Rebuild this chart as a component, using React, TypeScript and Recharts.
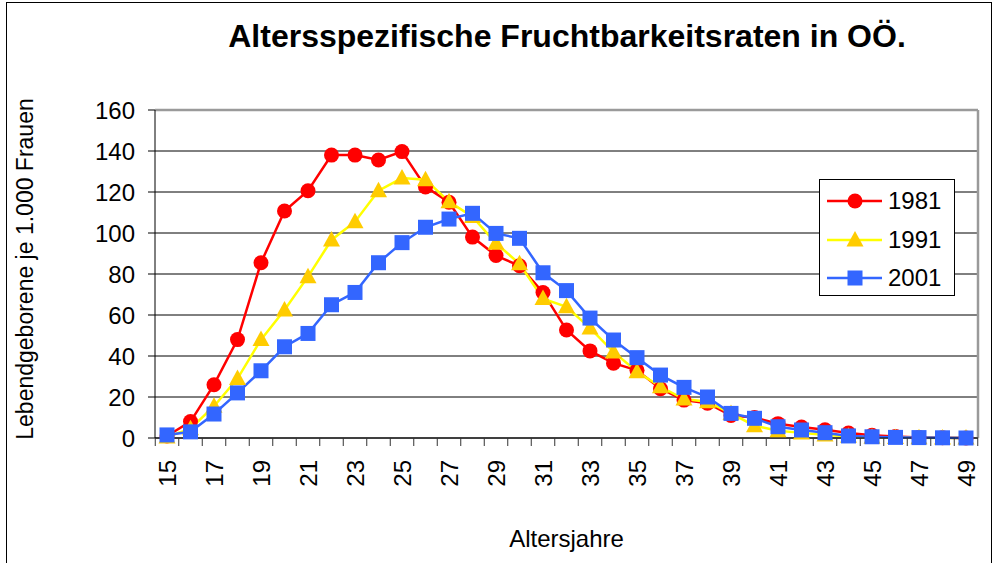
import { CartesianGrid, Legend, Line, LineChart, XAxis, YAxis } from 'recharts'

const ages = ['15', '16', '17', '18', '19', '20', '21', '22', '23', '24', '25', '26', '27', '28', '29', '30', '31', '32', '33', '34', '35', '36', '37', '38', '39', '40', '41', '42', '43', '44', '45', '46', '47', '48', '49']

const rates1981 = [1, 8, 26, 48, 85.5, 110.7, 120.6, 138, 138, 135.6, 139.7, 122.5, 115, 98, 89, 84, 71, 52.7, 42.5, 36.5, 33, 24, 18.5, 17, 11, 10, 7, 5.4, 4, 2.4, 1.3, 0.7, 0.3, 0.1, 0]
const rates1991 = [0.5, 4.5, 15.5, 29, 48, 62.4, 78.7, 96.6, 105.5, 120.6, 126.8, 126, 115.3, 108, 95, 85, 68, 64, 53.6, 42, 32.3, 25, 19, 17.7, 12, 6, 3.5, 2.5, 1.5, 0.8, 0.4, 0.2, 0.1, 0, 0]
const rates2001 = [1.5, 3, 11.7, 22, 32.8, 44.5, 51, 65, 71, 85.5, 95.3, 102.8, 106.8, 109.6, 99.8, 97.4, 80.6, 71.9, 58.5, 47.8, 39.2, 30.7, 24.7, 20, 12, 9.6, 5.5, 3.9, 2.6, 1, 0.6, 0.3, 0.2, 0.1, 0]

const yTicks = [0, 20, 40, 60, 80, 100, 120, 140, 160]

const chartData = ages.map((age, i) => ({
  age,
  y1981: rates1981[i],
  y1991: rates1991[i],
  y2001: rates2001[i],
}))

const FONT = '"Liberation Sans", Arial, sans-serif'
const HALF_STEP = 11.75

type Marker = 'circle' | 'triangle' | 'square'

const series: { key: string; name: string; line: string; fill: string; marker: Marker }[] = [
  { key: 'y1981', name: '1981', line: '#ff0000', fill: '#ff0000', marker: 'circle' },
  { key: 'y1991', name: '1991', line: '#ffff00', fill: '#ffcc00', marker: 'triangle' },
  { key: 'y2001', name: '2001', line: '#3366ff', fill: '#3366ff', marker: 'square' },
]

const markerShape = (marker: Marker, cx: number, cy: number, fill: string, key?: string) => {
  if (marker === 'circle') return <circle key={key} cx={cx} cy={cy} r={7.5} fill={fill} />
  if (marker === 'square') return <rect key={key} x={cx - 7.5} y={cy - 7.5} width={15} height={15} fill={fill} />
  return <polygon key={key} points={`${cx},${cy - 9} ${cx + 8.5},${cy + 6.5} ${cx - 8.5},${cy + 6.5}`} fill={fill} />
}

const makeDot = (marker: Marker, fill: string) => (props: any) => {
  const { cx, cy, index } = props
  if (cx == null || cy == null) return <g key={`e-${index}`} />
  return markerShape(marker, cx, cy, fill, `d-${index}`)
}

// every other label is shown, so each tick draws the two category borders around it
const AgeTick = (props: any) => {
  const { x, y, payload } = props
  const axisY = y - 8
  const ty = y + 14
  return (
    <g>
      <line x1={x - HALF_STEP} x2={x - HALF_STEP} y1={axisY} y2={axisY + 8} stroke="#333" />
      <line x1={x + HALF_STEP} x2={x + HALF_STEP} y1={axisY} y2={axisY + 8} stroke="#333" />
      <text
        x={x}
        y={ty}
        dy="0.36em"
        textAnchor="end"
        transform={`rotate(-90 ${x} ${ty})`}
        fontSize={24}
        fontFamily={FONT}
        fill="#000"
      >
        {payload.value}
      </text>
    </g>
  )
}

const YTitle = (props: any) => {
  const { viewBox } = props
  const cy = viewBox.y + viewBox.height / 2 - 5
  return (
    <text x={33} y={cy} textAnchor="middle" transform={`rotate(-90 33 ${cy})`} fontSize={23} fontFamily={FONT} fill="#000">
      Lebendgeborene je 1.000 Frauen
    </text>
  )
}

const LegendBox = () => (
  <div
    style={{
      width: 136,
      height: 117,
      boxSizing: 'border-box',
      border: '1px solid #000',
      background: '#fff',
      position: 'relative',
      fontFamily: FONT,
    }}
  >
    {series.map((s, i) => (
      <div key={s.key} style={{ position: 'absolute', left: 0, top: 2 + i * 38.5, height: 38, display: 'flex', alignItems: 'center' }}>
        <svg width={68} height={38} style={{ display: 'block' }}>
          <line x1={7} x2={62} y1={19} y2={19} stroke={s.line} strokeWidth={2.5} />
          {markerShape(s.marker, 35, 19, s.fill)}
        </svg>
        <span style={{ fontSize: 24, color: '#000', lineHeight: '38px' }}>{s.name}</span>
      </div>
    ))}
  </div>
)

export default function App() {
  return (
    <div style={{ position: 'absolute', left: 0, top: 0, width: 993, height: 563, overflow: 'hidden', background: '#fff' }}>
      <LineChart width={993} height={563} data={chartData} margin={{ top: 110, right: 15, bottom: 0, left: 0 }}>
        <CartesianGrid vertical={false} stroke="#000" />
        <CartesianGrid
          stroke="#9a9a9a"
          strokeWidth={2.5}
          horizontalCoordinatesGenerator={({ offset }: any) => [offset.top]}
          verticalCoordinatesGenerator={({ offset }: any) => [offset.left + offset.width]}
        />
        <XAxis
          dataKey="age"
          interval={1}
          padding={{ left: 12, right: 12 }}
          tickSize={8}
          tickMargin={0}
          tickLine={false}
          axisLine={{ stroke: '#000' }}
          height={125}
          tick={<AgeTick />}
          label={{ value: 'Altersjahre', position: 'insideBottom', offset: 16, fontSize: 24, fill: '#000', fontFamily: FONT }}
        />
        <YAxis
          type="number"
          domain={[0, 160]}
          ticks={yTicks}
          width={155}
          tickSize={7}
          tickMargin={13}
          axisLine={{ stroke: '#000' }}
          tickLine={{ stroke: '#000' }}
          tick={{ fontSize: 24, fill: '#000', fontFamily: FONT }}
          label={{ content: <YTitle /> }}
        />
        {series.map((s) => (
          <Line
            key={s.key}
            type="linear"
            dataKey={s.key}
            name={s.name}
            stroke={s.line}
            strokeWidth={2.5}
            dot={makeDot(s.marker, s.fill)}
            activeDot={false}
            isAnimationActive={false}
          />
        ))}
        <Legend
          layout="vertical"
          align="center"
          verticalAlign="middle"
          wrapperStyle={{ left: 819, top: 179, width: 136, height: 117 }}
          content={<LegendBox />}
        />
      </LineChart>
      <div
        style={{
          position: 'absolute',
          left: 40,
          width: 1054,
          top: 20,
          textAlign: 'center',
          fontFamily: FONT,
          fontWeight: 'bold',
          fontSize: 32,
          lineHeight: '32px',
          color: '#000',
          pointerEvents: 'none',
        }}
      >
        Altersspezifische Fruchtbarkeitsraten in OÖ.
      </div>
      <div
        style={{
          position: 'absolute',
          left: 6,
          top: 2,
          width: 984,
          height: 700,
          border: '1px solid #000',
          pointerEvents: 'none',
        }}
      />
    </div>
  )
}
